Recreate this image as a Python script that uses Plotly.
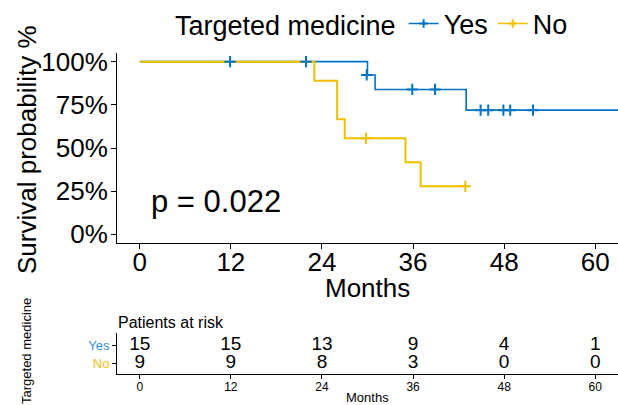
import plotly.graph_objects as go

# ---- data ----
yes_times = [0, 30, 31, 43, 63]
yes_surv = [1.0, 0.923, 0.839, 0.719, 0.719]
yes_cens_t = [11.9, 21.9, 29.9, 35.9, 38.9, 44.9, 45.9, 47.9, 48.8, 51.8]
yes_cens_s = [1.0, 1.0, 0.923, 0.839, 0.839, 0.719, 0.719, 0.719, 0.719, 0.719]

no_times = [0, 23, 26, 27, 35, 37, 42.9]
no_surv = [1.0, 0.889, 0.667, 0.556, 0.417, 0.278, 0.278]
no_cens_t = [29.8, 42.9]
no_cens_s = [0.556, 0.278]

risk_times = [0, 12, 24, 36, 48, 60]
risk_yes = [15, 15, 13, 9, 4, 1]
risk_no = [9, 9, 8, 3, 0, 0]

y_ticks = [0, 0.25, 0.5, 0.75, 1.0]
y_ticktext = ["0%", "25%", "50%", "75%", "100%"]
x_ticks = [0, 12, 24, 36, 48, 60]

BLUE = "#0073C2"
GOLD = "#EFC000"
FONT = "Liberation Sans, Arial, sans-serif"
W, H = 618, 405


def px(x):
    return x / W


def py(y):
    return 1 - y / H


fig = go.Figure()

# step lines
fig.add_trace(go.Scatter(x=yes_times, y=yes_surv, mode="lines", line_shape="hv",
                         line=dict(color=BLUE, width=1.6), showlegend=False,
                         xaxis="x", yaxis="y"))
fig.add_trace(go.Scatter(x=no_times, y=no_surv, mode="lines", line_shape="hv",
                         line=dict(color=GOLD, width=2.0), showlegend=False,
                         xaxis="x", yaxis="y"))
# censor marks
fig.add_trace(go.Scatter(x=yes_cens_t, y=yes_cens_s, mode="markers",
                         marker=dict(symbol="cross-thin", size=8,
                                     line=dict(color=BLUE, width=2)),
                         showlegend=False, xaxis="x", yaxis="y"))
fig.add_trace(go.Scatter(x=no_cens_t, y=no_cens_s, mode="markers",
                         marker=dict(symbol="cross-thin", size=8,
                                     line=dict(color=GOLD, width=2)),
                         showlegend=False, xaxis="x", yaxis="y"))
# legend entries
fig.add_trace(go.Scatter(x=[None], y=[None], mode="lines+markers", name="Yes",
                         line=dict(color=BLUE, width=1.6),
                         marker=dict(symbol="cross-thin", size=6,
                                     line=dict(color=BLUE, width=2)),
                         xaxis="x", yaxis="y"))
fig.add_trace(go.Scatter(x=[None], y=[None], mode="lines+markers", name="No",
                         line=dict(color=GOLD, width=1.6),
                         marker=dict(symbol="cross-thin", size=6,
                                     line=dict(color=GOLD, width=2)),
                         xaxis="x", yaxis="y"))

# risk table
fig.add_trace(go.Scatter(x=risk_times, y=[1] * len(risk_times), mode="text",
                         text=[str(v) for v in risk_yes],
                         textfont=dict(size=19, color="black", family=FONT),
                         showlegend=False, xaxis="x2", yaxis="y2"))
fig.add_trace(go.Scatter(x=risk_times, y=[0] * len(risk_times), mode="text",
                         text=[str(v) for v in risk_no],
                         textfont=dict(size=19, color="black", family=FONT),
                         showlegend=False, xaxis="x2", yaxis="y2"))

axis_common = dict(showline=True, linecolor="black", linewidth=1, ticks="outside",
                   tickcolor="black", showgrid=False, zeroline=False, mirror=False,
                   automargin=False)

fig.update_layout(
    width=W, height=H,
    margin=dict(l=0, r=0, t=0, b=0, autoexpand=False),
    paper_bgcolor="white", plot_bgcolor="white",
    font=dict(family=FONT, color="black"),
    xaxis=dict(domain=[px(117), 1], range=[-3, 63], tickvals=x_ticks,
               ticklen=5, tickfont=dict(size=26), ticklabelstandoff=-9,
               anchor="y", **axis_common),
    yaxis=dict(domain=[py(243), py(53)], range=[-0.05, 1.05], tickvals=y_ticks,
               ticktext=y_ticktext, ticklen=5, tickfont=dict(size=26),
               ticklabelstandoff=-2, anchor="x", **axis_common),
    xaxis2=dict(domain=[px(117), 1], range=[-3, 63], tickvals=x_ticks,
                ticklen=4, tickfont=dict(size=12), ticklabelstandoff=-2,
                anchor="y2", **axis_common),
    yaxis2=dict(domain=[py(374), py(333)], range=[-0.58, 1.7], tickvals=[0, 1],
                ticktext=["<span style='color:#F0C020'>No</span>",
                          "<span style='color:#3A8EDB'>Yes</span>"],
                ticklen=4, tickfont=dict(size=13), anchor="x2", **axis_common),
    legend=dict(orientation="h", x=px(373), xanchor="center", y=py(24),
                yanchor="middle", font=dict(size=27),
                title=dict(text="Targeted medicine", side="left", font=dict(size=27)),
                bgcolor="rgba(0,0,0,0)", itemwidth=30, tracegroupgap=0),
    annotations=[
        dict(text="Survival probability %", x=px(27), y=py(150), xref="paper", yref="paper",
             textangle=-90, showarrow=False, font=dict(size=26), xanchor="center", yanchor="middle"),
        dict(text="Months", x=px(367), y=py(288), xref="paper", yref="paper",
             showarrow=False, font=dict(size=26), xanchor="center", yanchor="middle"),
        dict(text="p = 0.022", x=1.2, y=0.19, xref="x", yref="y", showarrow=False,
             font=dict(size=31), xanchor="left", yanchor="middle"),
        dict(text="Patients at risk", x=px(116), y=py(322), xref="paper", yref="paper",
             showarrow=False, font=dict(size=16), xanchor="left", yanchor="middle"),
        dict(text="Months", x=px(367), y=py(397), xref="paper", yref="paper",
             showarrow=False, font=dict(size=13), xanchor="center", yanchor="middle"),
        dict(text="Targeted medicine", x=px(26), y=py(351), xref="paper", yref="paper",
             textangle=-90, showarrow=False, font=dict(size=13), xanchor="center", yanchor="middle"),
    ],
)

fig.write_html("out.html", config={"displayModeBar": False},
               post_script="document.body.style.margin='0';document.body.style.overflow='hidden';")
